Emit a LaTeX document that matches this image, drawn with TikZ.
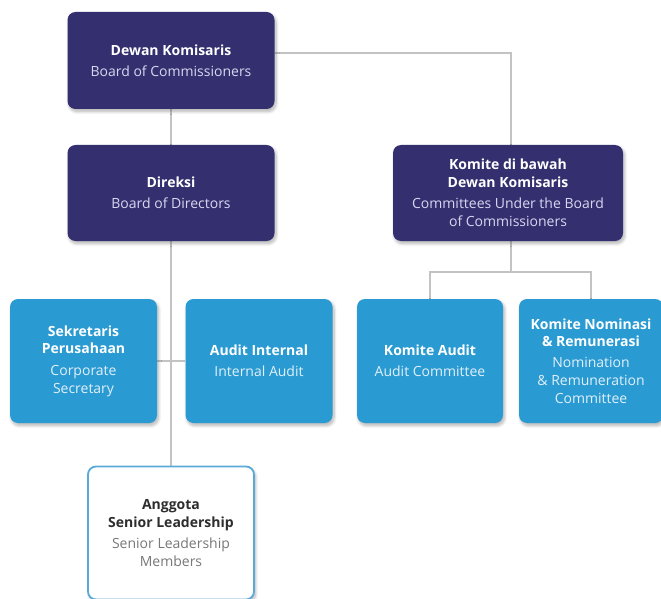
\documentclass[tikz,border=0pt]{standalone}
\usepackage{fontspec}
\setmainfont{Open Sans}
\usetikzlibrary{shadows.blur,backgrounds}
\definecolor{navy}{RGB}{52,48,111}
\definecolor{sky}{RGB}{42,154,210}
\definecolor{subnavy}{RGB}{215,215,240}
\definecolor{subsky}{RGB}{225,240,250}
\definecolor{linegray}{RGB}{195,195,195}
\definecolor{darktxt}{RGB}{45,45,45}
\definecolor{graytxt}{RGB}{120,120,120}
\definecolor{bordersky}{RGB}{90,170,216}
\tikzset{
  box/.style={rounded corners=8pt, align=center, inner sep=0pt,
    blur shadow={shadow xshift=1.5pt, shadow yshift=-2.5pt, shadow blur steps=8, shadow opacity=30, shadow blur radius=3pt},
    font=\fontsize{14}{17.8}\selectfont},
  navybox/.style={box, fill=navy, text=white},
  skybox/.style={box, fill=sky, text=white},
  whitebox/.style={box, fill=white, draw=bordersky, line width=1.8pt, text=darktxt},
  conn/.style={draw=linegray, line width=1.4pt}
}
\newcommand{\subn}[1]{{\color{subnavy}#1}}
\newcommand{\subs}[1]{{\color{subsky}#1}}
\begin{document}
\begin{tikzpicture}[x=1pt,y=-1pt]
\useasboundingbox (0,0) rectangle (661,599);
\begin{scope}
\clip (0,0) rectangle (661,599);
\node[navybox, minimum width=207pt, minimum height=97pt] (dk) at (171,60.5)
  {\textbf{Dewan Komisaris}\\[3pt]\subn{Board of Commissioners}};
\node[navybox, minimum width=207pt, minimum height=96pt] (dir) at (171,193)
  {\textbf{Direksi}\\[3pt]\subn{Board of Directors}};
\node[navybox, minimum width=230pt, minimum height=96pt] (kom) at (508,193)
  {\textbf{Komite di bawah}\\\textbf{Dewan Komisaris}\\[3.5pt]\subn{Committees Under the Board}\\\subn{of Commissioners}};
\node[skybox, minimum width=147pt, minimum height=124pt] (sek) at (83.5,361)
  {\textbf{Sekretaris}\\\textbf{Perusahaan}\\[3.5pt]\subs{Corporate}\\\subs{Secretary}};
\node[skybox, minimum width=147pt, minimum height=124pt] (ai) at (259,361)
  {\textbf{Audit Internal}\\[3.5pt]\subs{Internal Audit}};
\node[skybox, minimum width=146pt, minimum height=124pt] (ka) at (430,361)
  {\textbf{Komite Audit}\\[3.5pt]\subs{Audit Committee}};
\node[skybox, minimum width=144pt, minimum height=124pt] (kn) at (591,361)
  {\textbf{Komite Nominasi}\\\textbf{\& Remunerasi}\\[3pt]\subs{Nomination}\\\subs{\& Remuneration}\\\subs{Committee}};
\node[whitebox, minimum width=166pt, minimum height=133pt] (asl) at (171,533)
  {\textbf{Anggota}\\\textbf{Senior Leadership}\\[3.5pt]{\color{graytxt}Senior Leadership}\\{\color{graytxt}Members}};
\coordinate (j1) at (511,53);
\coordinate (j2) at (511,272);
\begin{scope}[on background layer]
\draw[conn] (dk.south) -- (dir.north);
\draw[conn] (dk.east |- j1) -| (kom.north -| j1);
\draw[conn] (dir.south) -- (asl.north);
\draw[conn] (sek.east) -- (ai.west);
\draw[conn] (kom.south -| j2) -- (j2);
\draw[conn] (ka.north) |- (j2) -| (kn.north);
\end{scope}
\end{scope}
\end{tikzpicture}
\end{document}
